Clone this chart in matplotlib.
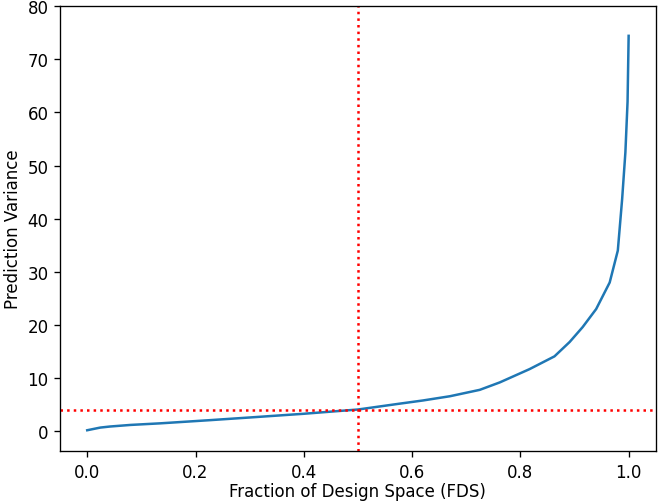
import matplotlib
matplotlib.use('Agg')
import matplotlib.pyplot as plt
import numpy as np

# values (sorted prediction variance vs. fraction of design space)
fds = [0.0, 0.024, 0.042, 0.08, 0.135, 0.227, 0.30, 0.40, 0.50, 0.577, 0.62, 0.67,
       0.725, 0.762, 0.817, 0.863, 0.891, 0.915, 0.94, 0.965, 0.98, 0.988, 0.994, 0.998, 1.0]
pred_var = [0.2, 0.7, 0.9, 1.2, 1.5, 2.1, 2.6, 3.3, 4.1, 5.2, 5.8, 6.6,
            7.8, 9.2, 11.7, 14.1, 16.8, 19.6, 23.0, 28.0, 34.0, 43.7, 52.5, 62.0, 74.4]
median_var = 4.0
fds_mid = 0.5

# rendered at 120 dpi so text and lines come out a bit larger, like the reference
fig, ax = plt.subplots(figsize=(661/120, 505/120), dpi=120)
fig.subplots_adjust(left=0.091, right=0.992, bottom=0.105, top=0.986)

ax.plot(fds, pred_var, color='#1f77b4', lw=1.5)
ax.axhline(y=median_var, color='red', linestyle=':', lw=1.5)
ax.axvline(x=fds_mid, color='red', linestyle=':', lw=1.5)

ax.set_xlim(-0.05, 1.05)
ax.set_ylim(-3.7, 80)
ax.set_xlabel('Fraction of Design Space (FDS)', labelpad=1)
ax.set_ylabel('Prediction Variance', labelpad=3)

fig.savefig('out.png', dpi=120)
